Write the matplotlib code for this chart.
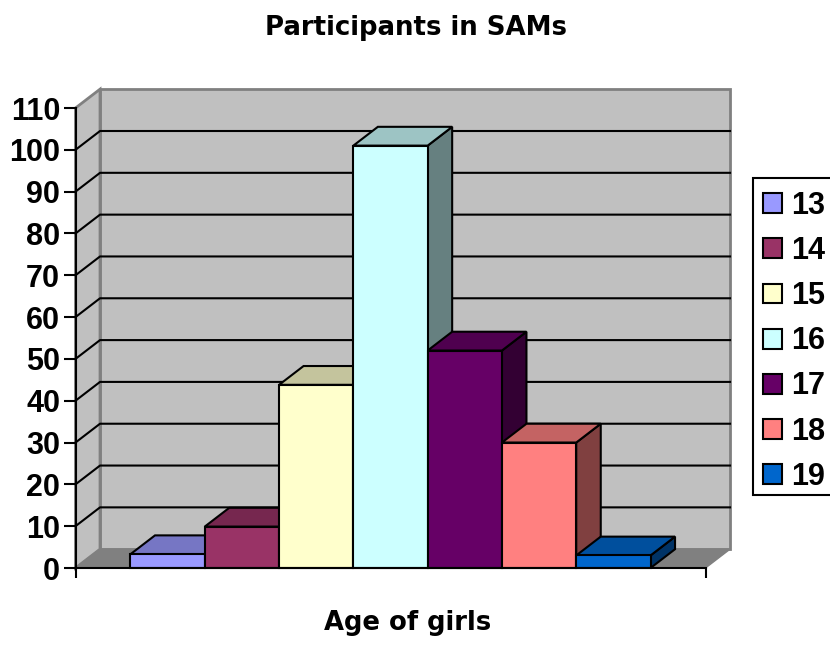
# -*- coding: utf-8 -*-
import matplotlib
matplotlib.use('Agg')
import matplotlib.pyplot as plt
from matplotlib.patches import Rectangle
from matplotlib.colors import to_rgb

ages = ['13', '14', '15', '16', '17', '18', '19']
participants = [3.3, 9.9, 43.8, 101, 52, 30, 3]
colors = ['#9999FF', '#993366', '#FFFFCC', '#CCFFFF', '#660066', '#FF8080', '#0066CC']
y_ticks = list(range(0, 111, 10))

# oblique depth offset, in data units
DX = 0.33
DY = 4.5
XMIN, XMAX = -1.24, 7.24
YMAX = 110


def shade(c, f):
    return tuple(v * f for v in to_rgb(c))


def poly(ax, pts, color, z, ec='black', lw=1.5):
    xs, ys = zip(*pts)
    ax.fill(xs, ys, facecolor=color, edgecolor=ec, lw=lw, zorder=z,
            clip_on=False, joinstyle='miter')


def draw_bar(ax, x, h, color, z):
    l, r = x - 0.5, x + 0.5
    poly(ax, [(r, 0), (r + DX, DY), (r + DX, h + DY), (r, h)], shade(color, 0.5), z)
    poly(ax, [(l, h), (r, h), (r + DX, h + DY), (l + DX, h + DY)], shade(color, 0.77), z)
    poly(ax, [(l, 0), (r, 0), (r, h), (l, h)], color, z)


plt.rcParams['font.family'] = ['Liberation Sans', 'DejaVu Sans']
plt.rcParams['font.weight'] = 'bold'

fig = plt.figure(figsize=(8.3, 6.63), dpi=100)
ax = fig.add_axes([75.5 / 830, (663 - 568) / 663, 630 / 830, 460 / 663])
ax.set_xlim(XMIN, XMAX)
ax.set_ylim(0, YMAX)
ax.patch.set_visible(False)

# walls and floor
poly(ax, [(XMIN + DX, DY), (XMAX + DX, DY), (XMAX + DX, YMAX + DY), (XMIN + DX, YMAX + DY)],
     '#C0C0C0', 1, ec='#808080', lw=2)
poly(ax, [(XMIN, 0), (XMIN + DX, DY), (XMIN + DX, YMAX + DY), (XMIN, YMAX)],
     '#C0C0C0', 1, ec='#808080', lw=2)
poly(ax, [(XMIN, 0), (XMAX, 0), (XMAX + DX, DY), (XMIN + DX, DY)],
     '#808080', 1.5, ec='#808080', lw=1)

# gridlines run along the side wall and the back wall
for v in y_ticks[1:-1]:
    ax.plot([XMIN, XMIN + DX, XMAX + DX], [v, v + DY, v + DY], color='black', lw=1.5,
            zorder=2, clip_on=False)

for i, (h, c) in enumerate(zip(participants, colors)):
    draw_bar(ax, i, h, c, 3 + i * 0.1)

for s in ['top', 'right']:
    ax.spines[s].set_visible(False)
for s in ['left', 'bottom']:
    ax.spines[s].set_linewidth(1.5)
    ax.spines[s].set_zorder(5)

ax.set_yticks(y_ticks)
ax.set_xticks([XMIN, XMAX])
ax.set_xticklabels([])
ax.tick_params(axis='y', length=9, width=1.5, labelsize=22, pad=2)
ax.tick_params(axis='x', length=7, width=1.5)

fig.text(416 / 830, 1 - 28 / 663, 'Participants in SAMs', ha='center', va='center',
         fontsize=18.7, fontweight='bold', family=['DejaVu Sans'])
fig.text(408 / 830, 1 - 623 / 663, 'Age of girls', ha='center', va='center',
         fontsize=18.6, fontweight='bold', family=['DejaVu Sans'])

# legend frame is its own box, the automatic one comes out too tall
fig.add_artist(Rectangle((753 / 830, 1 - 495 / 663), 80 / 830, 317 / 663, transform=fig.transFigure,
                         facecolor='white', edgecolor='black', lw=1.5))
handles = [Rectangle((0, 0), 1, 1, facecolor=c, edgecolor='black', lw=1.5) for c in colors]
leg = fig.legend(handles, ages, loc='upper left', bbox_to_anchor=(752 / 830, 1 - 180 / 663),
                 fontsize=22, frameon=False,
                 handlelength=0.62, handleheight=0.62, handletextpad=0.3, labelspacing=0.495,
                 borderpad=0.36, borderaxespad=0)

fig.savefig('out.png', dpi=100)
